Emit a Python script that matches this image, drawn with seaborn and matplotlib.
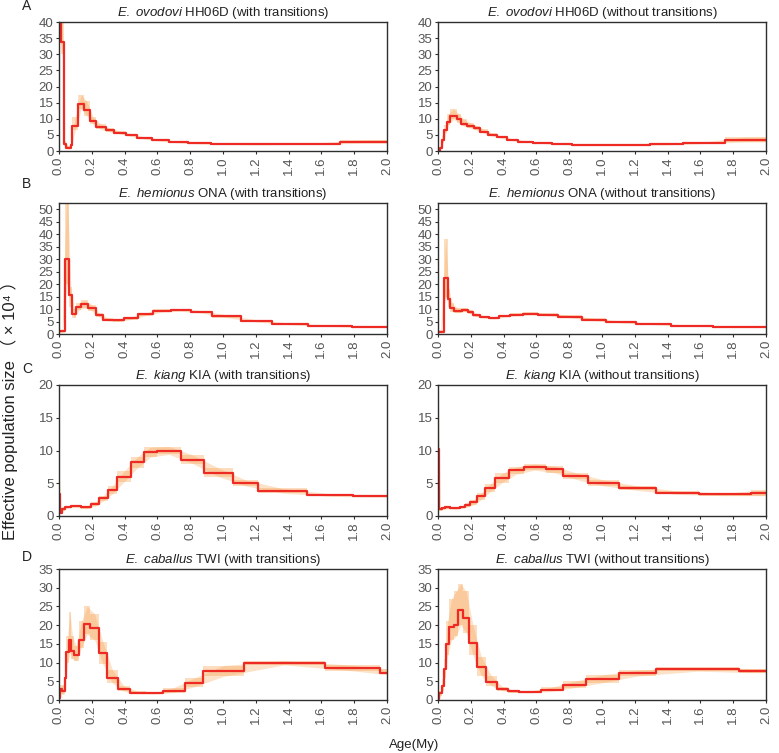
"""PSMC curves for four equid genomes, with and without transitions."""
import matplotlib.pyplot as plt
import numpy as np
import seaborn as sns

RED = "#ee2a24"
ORANGE = "#f7a04a"
TICK_GREY = "#555555"
SPINE = "#2e2e2e"

sns.set_style("ticks")
plt.rcParams["font.family"] = ["Liberation Sans", "Noto Sans CJK SC", "DejaVu Sans"]
plt.rcParams["mathtext.fontset"] = "custom"
plt.rcParams["mathtext.rm"] = "Liberation Sans"
plt.rcParams["mathtext.it"] = "Liberation Sans:italic"

# ---- data (age in My, Ne in x10^4) ----
ovo_with_edges = [0, 0.010, 0.030, 0.045, 0.071, 0.081, 0.118, 0.152, 0.187, 0.228, 0.285,
                  0.335, 0.407, 0.476, 0.569, 0.671, 0.787, 0.929, 1.467, 1.711, 2.0]
ovo_with_ne = [60, 33.8, 2.1, 0.8, 2.0, 7.9, 14.7, 12.8, 9.3, 7.4, 6.4, 5.7, 4.9, 4.0, 3.3,
               2.7, 2.4, 2.1, 2.3, 2.7]
ovo_with_lo = [35, 30, 1.5, 0.5, 1.5, 6.5, 13.0, 11.0, 8.3, 6.7, 5.9, 5.3, 4.5, 3.7, 3.0,
               2.5, 2.2, 1.9, 2.1, 2.4]
ovo_with_hi = [70, 40, 3.0, 1.5, 3.0, 10.5, 17.5, 15.5, 10.5, 8.3, 7.0, 6.2, 5.3, 4.4, 3.6,
               3.0, 2.6, 2.3, 2.6, 3.4]

ovo_wo_edges = [0, 0.010, 0.024, 0.039, 0.055, 0.071, 0.116, 0.142, 0.176, 0.217, 0.257,
                0.304, 0.359, 0.419, 0.490, 0.582, 0.693, 0.815, 1.007, 1.291, 1.493, 1.747, 2.0]
ovo_wo_ne = [0.1, 1.0, 3.5, 6.5, 9.0, 10.9, 9.8, 8.5, 7.8, 7.0, 6.0, 5.0, 4.2, 3.5, 2.9,
             2.5, 2.2, 2.0, 1.9, 2.1, 2.5, 3.3]
ovo_wo_lo = [0, 0.6, 2.5, 5.5, 8.0, 9.8, 8.8, 7.7, 7.1, 6.4, 5.5, 4.6, 3.9, 3.2, 2.7,
             2.3, 2.0, 1.8, 1.7, 1.9, 2.3, 2.8]
ovo_wo_hi = [0.3, 1.5, 4.5, 8.0, 11.5, 13.0, 11.5, 9.8, 8.8, 7.8, 6.7, 5.5, 4.6, 3.8, 3.2,
             2.7, 2.4, 2.2, 2.1, 2.3, 2.8, 4.3]

hem_with_edges = [0, 0.036, 0.063, 0.081, 0.105, 0.137, 0.174, 0.224, 0.269, 0.329, 0.396,
                  0.481, 0.572, 0.683, 0.804, 0.935, 1.107, 1.299, 1.521, 1.784, 2.0]
hem_with_ne = [1.1, 30.0, 15.5, 8.2, 10.9, 12.1, 10.5, 7.5, 5.8, 5.5, 6.3, 7.9, 9.3, 9.6,
               8.9, 7.1, 5.2, 4.0, 3.2, 2.8]
hem_with_lo = [0.5, 20, 11, 6.5, 9.5, 10.5, 9.3, 6.7, 5.2, 5.0, 5.8, 7.3, 8.8, 9.1, 8.4,
               6.6, 4.8, 3.7, 3.0, 2.6]
hem_with_hi = [1.8, 60, 19, 10, 12.5, 13.5, 11.8, 8.3, 6.4, 6.0, 6.9, 8.5, 9.9, 10.1, 9.4,
               7.7, 5.7, 4.4, 3.5, 3.0]

hem_wo_edges = [0, 0.034, 0.059, 0.075, 0.095, 0.146, 0.182, 0.213, 0.257, 0.308, 0.369,
                0.440, 0.521, 0.612, 0.734, 0.875, 1.027, 1.210, 1.422, 1.676, 2.0]
hem_wo_ne = [1.0, 22.6, 14.0, 10.6, 9.3, 9.8, 9.0, 7.5, 6.8, 6.5, 7.2, 7.8, 8.2, 7.8, 7.0,
             5.8, 4.8, 4.0, 3.3, 3.0]
hem_wo_lo = [0.5, 15, 11, 9.0, 8.5, 9.0, 8.2, 6.9, 6.3, 6.0, 6.7, 7.3, 7.7, 7.3, 6.5,
             5.3, 4.4, 3.7, 3.1, 2.8]
hem_wo_hi = [1.5, 38, 18, 12.5, 10.3, 10.5, 9.8, 8.2, 7.3, 7.0, 7.7, 8.3, 8.7, 8.3, 7.5,
             6.3, 5.2, 4.3, 3.5, 3.2]

kia_with_edges = [0, 0.006, 0.020, 0.036, 0.071, 0.132, 0.193, 0.243, 0.298, 0.355, 0.436,
                  0.517, 0.598, 0.746, 0.886, 1.064, 1.212, 1.510, 1.793, 2.0]
kia_with_ne = [3.4, 0.5, 1.0, 1.4, 1.5, 1.3, 1.8, 2.7, 4.0, 6.0, 8.2, 9.8, 10.0, 8.6, 6.6,
               5.0, 3.8, 3.2, 3.0]
kia_with_lo = [2.0, 0.3, 0.8, 1.2, 1.3, 1.1, 1.5, 2.3, 3.4, 5.2, 7.3, 9.0, 9.4, 8.0, 6.0,
               4.6, 3.5, 3.0, 2.9]
kia_with_hi = [6.0, 0.8, 1.3, 1.6, 1.7, 1.5, 2.1, 3.1, 4.6, 6.8, 9.0, 10.5, 10.6, 9.3, 7.3,
               5.5, 4.2, 3.4, 3.1]

kia_wo_edges = [0, 0.004, 0.024, 0.045, 0.075, 0.136, 0.167, 0.198, 0.238, 0.289, 0.350,
                0.432, 0.523, 0.656, 0.764, 0.916, 1.104, 1.328, 1.593, 1.908, 2.0]
kia_wo_ne = [10.2, 1.0, 1.2, 1.3, 1.2, 1.4, 1.7, 2.1, 3.0, 4.3, 5.8, 7.0, 7.5, 7.1, 6.1,
             5.0, 4.2, 3.5, 3.3, 3.5]
kia_wo_lo = [3.0, 0.8, 1.0, 1.1, 1.0, 1.2, 1.4, 1.7, 2.5, 3.7, 5.1, 6.4, 7.0, 6.6, 5.6,
             4.6, 3.9, 3.3, 3.1, 3.1]
kia_wo_hi = [20.0, 1.3, 1.4, 1.5, 1.4, 1.6, 2.0, 2.5, 3.5, 4.9, 6.5, 7.5, 7.9, 7.6, 6.6,
             5.5, 4.6, 3.8, 3.5, 3.9]

cab_with_edges = [0, 0.008, 0.020, 0.035, 0.045, 0.059, 0.075, 0.089, 0.122, 0.152, 0.191,
                  0.244, 0.293, 0.360, 0.431, 0.533, 0.634, 0.766, 0.878, 1.126, 1.620,
                  1.955, 2.0]
cab_with_ne = [0.5, 3.0, 2.5, 6.0, 12.9, 15.9, 13.0, 12.0, 16.1, 20.4, 19.2, 12.5, 6.0,
               2.9, 2.0, 1.8, 2.5, 4.6, 7.8, 10.0, 8.5, 7.3]
cab_with_lo = [0, 1.5, 1.5, 4.0, 10.0, 12.5, 11.0, 10.5, 14.0, 17.5, 16.0, 9.5, 4.5, 2.3,
               1.7, 1.6, 2.0, 3.5, 6.3, 9.4, 7.8, 6.9]
cab_with_hi = [2.0, 4.0, 4.0, 8.0, 17.0, 23.5, 17.0, 14.5, 21.0, 25.0, 23.0, 15.5, 8.0,
               3.8, 2.3, 2.0, 3.3, 5.8, 9.2, 10.5, 9.3, 8.3]

cab_wo_edges = [0, 0.008, 0.024, 0.035, 0.049, 0.069, 0.096, 0.124, 0.154, 0.191, 0.236,
                0.293, 0.358, 0.425, 0.496, 0.628, 0.760, 0.902, 1.102, 1.329, 1.837, 2.0]
cab_wo_ne = [0.3, 1.8, 3.8, 8.3, 15.0, 19.5, 20.0, 24.0, 22.0, 15.3, 8.8, 4.9, 3.0, 2.3,
             2.2, 2.8, 4.0, 5.6, 7.3, 8.2, 7.7]
cab_wo_lo = [0, 1.0, 2.5, 6.0, 12.0, 16.0, 17.0, 20.0, 18.0, 12.0, 6.5, 3.8, 2.5, 2.0,
             1.9, 2.3, 3.3, 4.6, 6.4, 7.7, 7.3]
cab_wo_hi = [1.0, 2.5, 5.5, 11.0, 21.0, 27.0, 29.0, 31.0, 29.0, 20.0, 11.5, 6.5, 3.6, 2.6,
             2.5, 3.4, 5.0, 6.7, 8.0, 8.7, 8.4]

species = ["E.\\ ovodovi", "E.\\ hemionus", "E.\\ kiang", "E.\\ caballus"]
samples = ["HH06D", "ONA", "KIA", "TWI"]
letters = ["A", "B", "C", "D"]
ylims = [(40, 5), (52.5, 5), (20, 5), (35, 5)]
xticks = [0.0, 0.2, 0.4, 0.6, 0.8, 1.0, 1.2, 1.4, 1.6, 1.8, 2.0]

panels = [
    [(ovo_with_edges, ovo_with_ne, ovo_with_lo, ovo_with_hi),
     (ovo_wo_edges, ovo_wo_ne, ovo_wo_lo, ovo_wo_hi)],
    [(hem_with_edges, hem_with_ne, hem_with_lo, hem_with_hi),
     (hem_wo_edges, hem_wo_ne, hem_wo_lo, hem_wo_hi)],
    [(kia_with_edges, kia_with_ne, kia_with_lo, kia_with_hi),
     (kia_wo_edges, kia_wo_ne, kia_wo_lo, kia_wo_hi)],
    [(cab_with_edges, cab_with_ne, cab_with_lo, cab_with_hi),
     (cab_wo_edges, cab_wo_ne, cab_wo_lo, cab_wo_hi)],
]


def draw_panel(ax, edges, ne, lo, hi):
    """Bootstrap envelope in orange, main estimate as red step line."""
    edges = np.asarray(edges)
    y_step = list(ne) + [ne[-1]]
    lo_step = list(lo) + [lo[-1]]
    hi_step = list(hi) + [hi[-1]]
    # soft envelope through step midpoints (bootstrap breakpoints wander)
    mids = np.concatenate([[edges[0]], (edges[:-1] + edges[1:]) / 2, [edges[-1]]])
    lo_mid = [lo[0]] + list(lo) + [lo[-1]]
    hi_mid = [hi[0]] + list(hi) + [hi[-1]]
    ax.fill_between(mids, lo_mid, hi_mid, color=ORANGE, alpha=0.3, lw=0)
    ax.fill_between(edges, lo_step, hi_step, step="post", color=ORANGE, alpha=0.35, lw=0)
    sns.lineplot(x=edges, y=y_step, ax=ax, color=RED, linewidth=1.6,
                 drawstyle="steps-post", sort=False)


fig = plt.figure(figsize=(7.79, 7.53), dpi=100)
lefts = [59 / 779, 438 / 779]
width = 328 / 779
bottoms = [1 - 151 / 753, 1 - 334 / 753, 1 - 516 / 753, 1 - 700 / 753]
heights = [129 / 753, 131 / 753, 131 / 753, 131 / 753]

for row in range(4):
    for col in range(2):
        ax = fig.add_axes([lefts[col], bottoms[row], width, heights[row]])
        edges, ne, lo, hi = panels[row][col]
        draw_panel(ax, edges, ne, lo, hi)
        ymax, ystep = ylims[row]
        ax.set_xlim(0, 2.0)
        ax.set_ylim(0, ymax)
        ax.set_yticks(np.arange(0, ymax + 0.1, ystep))
        ax.set_xticks(xticks)
        ax.set_xticklabels([f"{t:.1f}" for t in xticks], rotation=90)
        ax.tick_params(axis="both", labelsize=9.5, labelcolor=TICK_GREY, color=SPINE,
                       length=2.5, width=0.8, pad=1.5)
        for sp in ax.spines.values():
            sp.set_color(SPINE)
            sp.set_linewidth(1.0)
        kind = "with transitions" if col == 0 else "without transitions"
        ax.set_title(f"$\\mathit{{{species[row]}}}$ {samples[row]} ({kind})",
                     fontsize=9.5, pad=4, color="#222222")
        ax.set_xlabel("")
        ax.set_ylabel("")

for row, ytop in enumerate([6, 184, 369, 557]):
    fig.text(22 / 779, 1 - ytop / 753, letters[row], fontsize=10, va="center", ha="left",
             color="#222222")

fig.text(9 / 779, 1 - 406 / 753, "Effective population size （ × 10⁴ ）", rotation=90,
         fontsize=12, va="center", ha="center", color="#222222")
fig.text(414 / 779, 1 - 745 / 753, "Age(My)", fontsize=9.5, va="center", ha="center",
         color="#222222")

fig.savefig("out.png", dpi=100)
